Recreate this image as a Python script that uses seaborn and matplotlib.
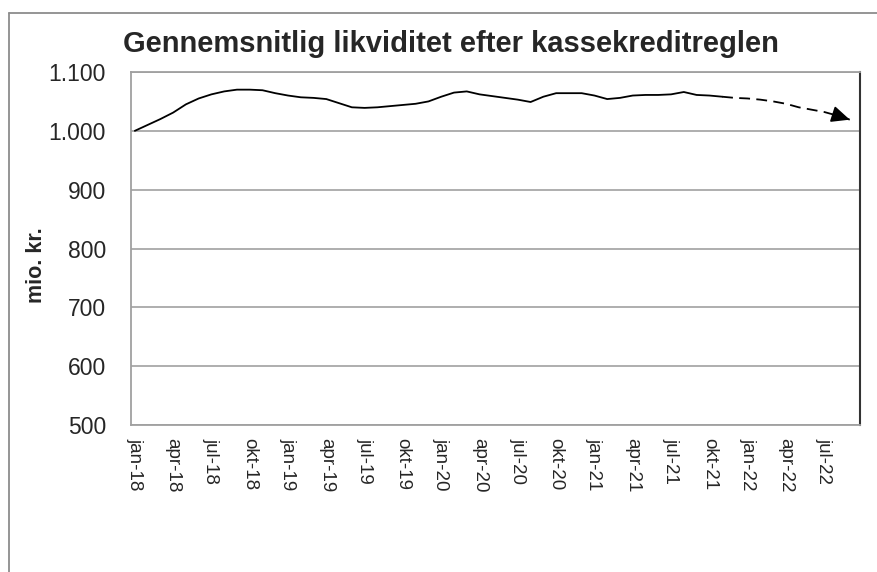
import numpy as np
import pandas as pd
import matplotlib
matplotlib.use('Agg')
import matplotlib.pyplot as plt
from matplotlib.lines import Line2D
import seaborn as sns

# månedlige værdier jan-18 .. sep-22 (mio. kr.)
values = [1000, 1010, 1020, 1031, 1045, 1055, 1062, 1067, 1070, 1070,
          1069, 1064, 1060, 1057, 1056, 1054, 1047, 1040, 1039, 1040,
          1042, 1044, 1046, 1050, 1058, 1065, 1067, 1062, 1059, 1056,
          1053, 1049, 1058, 1064, 1064, 1064, 1060, 1054, 1056, 1060,
          1061, 1061, 1062, 1066, 1061, 1060, 1058, 1056, 1055, 1053,
          1050, 1046, 1040, 1036, 1032, 1026, 1019]
forecast_start = 46  # fra her er kurven stiplet

tick_labels = ['jan-18', 'apr-18', 'jul-18', 'okt-18', 'jan-19', 'apr-19',
               'jul-19', 'okt-19', 'jan-20', 'apr-20', 'jul-20', 'okt-20',
               'jan-21', 'apr-21', 'jul-21', 'okt-21', 'jan-22', 'apr-22',
               'jul-22']
y_ticks = [500, 600, 700, 800, 900, 1000, 1100]
y_tick_labels = ['500', '600', '700', '800', '900', '1.000', '1.100']

df = pd.DataFrame({'m': np.arange(len(values)), 'v': values})
df_act = df[df['m'] <= forecast_start]
df_fc = df[df['m'] >= forecast_start]

sns.set_style('white')
plt.rcParams['font.family'] = ['Liberation Sans', 'DejaVu Sans']

fig = plt.figure(figsize=(8.78, 5.72), dpi=100)
ax = fig.add_axes([131 / 878, 1 - 425 / 572, 729 / 878, 353 / 572])

sns.lineplot(data=df_act, x='m', y='v', color='black', lw=1.3, ax=ax)
sns.lineplot(data=df_fc, x='m', y='v', color='black', lw=1.3,
             linestyle=(0, (6, 3.5)), ax=ax)

# pilespids i enden af prognosen
x1, y1 = df['m'].iloc[-1], df['v'].iloc[-1]
x0, y0 = df['m'].iloc[-2], df['v'].iloc[-2]
ax.annotate('', xy=(x1, y1), xytext=(x1 - 0.3 * (x1 - x0), y1 - 0.3 * (y1 - y0)),
            arrowprops=dict(arrowstyle='-|>,head_length=1.1,head_width=0.5',
                            color='black', lw=1.3, shrinkA=0, shrinkB=0))

ax.set_ylim(500, 1100)
ax.set_xlim(-0.3, 56.8)
ax.set_yticks(y_ticks)
ax.set_yticklabels(y_tick_labels, fontsize=16.5)
ax.set_xticks(np.arange(0, 3 * len(tick_labels), 3))
ax.set_xticklabels(tick_labels, rotation=270, fontsize=13.5, va='top', ha='center')
ax.tick_params(axis='y', length=0, pad=18)
ax.tick_params(axis='x', length=0, pad=9)
ax.set_xlabel('')
ax.set_ylabel('')
ax.grid(axis='y', color='#a8a8a8', lw=1.3)
ax.grid(axis='x', visible=False)
for s in ['top', 'left', 'bottom']:
    ax.spines[s].set_color('#a0a0a0')
    ax.spines[s].set_linewidth(1.3)
ax.spines['right'].set_color('#333333')
ax.spines['right'].set_linewidth(1.5)

fig.text(451 / 878, 1 - 44 / 572, 'Gennemsnitlig likviditet efter kassekreditreglen',
         ha='center', va='center', fontsize=21, fontweight='bold')
fig.text(37 / 878, 1 - 265 / 572, 'mio. kr.', rotation=90, ha='center', va='center',
         fontsize=15.5, fontweight='bold')

# ydre ramme (kun venstre og top synlige)
fig.add_artist(Line2D([9 / 878, 9 / 878], [0, 1 - 13 / 572], color='#8c8c8c', lw=1.3))
fig.add_artist(Line2D([9 / 878, 1], [1 - 13 / 572, 1 - 13 / 572], color='#8c8c8c', lw=1.3))

plt.savefig('out.png', dpi=100)
